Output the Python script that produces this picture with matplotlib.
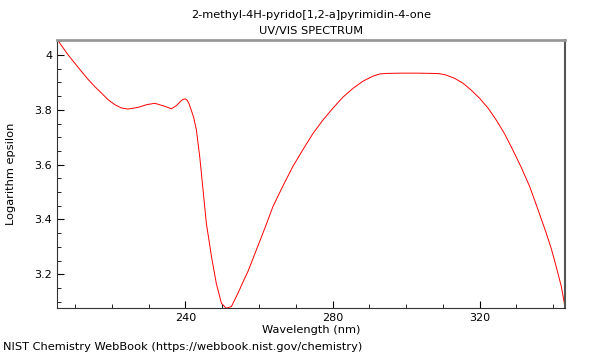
import matplotlib
matplotlib.use("Agg")
import matplotlib.pyplot as plt
from matplotlib.ticker import MultipleLocator, FormatStrFormatter

# -----------------------------
# DATA
# -----------------------------
wavelength = [205.2, 206.3, 208.1, 209.9, 211.7, 213.5, 215.3, 217.2, 219.0, 220.8,
              222.6, 224.4, 227.1, 229.5, 231.7, 234.4, 236.2, 237.6, 238.6, 239.3,
              240.0, 240.5, 241.0, 241.6, 242.3, 243.0, 243.9, 244.8, 245.7, 247.1,
              248.4, 249.8, 251.1, 252.5, 254.3, 255.6, 257.0, 259.3, 261.6, 263.8,
              266.5, 269.2, 272.0, 274.7, 277.4, 280.1, 282.8, 285.6, 288.3, 291.0,
              292.8, 294.6, 298.3, 303.0, 307.3, 309.1, 310.9, 313.2, 315.5, 317.7,
              320.0, 322.3, 324.5, 326.8, 329.0, 331.3, 333.6, 335.8, 338.1, 339.5,
              340.8, 342.2, 343.1]
log_eps = [4.056, 4.035, 4.001, 3.971, 3.941, 3.912, 3.886, 3.861, 3.837, 3.819,
           3.807, 3.803, 3.809, 3.819, 3.824, 3.813, 3.804, 3.816, 3.830, 3.838,
           3.840, 3.835, 3.822, 3.799, 3.770, 3.726, 3.629, 3.508, 3.386, 3.264,
           3.167, 3.094, 3.076, 3.082, 3.131, 3.170, 3.210, 3.289, 3.368, 3.447,
           3.522, 3.593, 3.656, 3.714, 3.763, 3.806, 3.846, 3.879, 3.905, 3.923,
           3.931, 3.933, 3.934, 3.934, 3.933, 3.932, 3.927, 3.915, 3.897, 3.872,
           3.842, 3.806, 3.763, 3.712, 3.654, 3.590, 3.520, 3.438, 3.350, 3.292,
           3.228, 3.155, 3.088]

title = "2-methyl-4H-pyrido[1,2-a]pyrimidin-4-one\nUV/VIS SPECTRUM"
footer = "NIST Chemistry WebBook (https://webbook.nist.gov/chemistry)"

# -----------------------------
# FIGURE
# -----------------------------
fig = plt.figure(figsize=(6, 3.6), dpi=100)
ax = fig.add_axes([0.095, 0.1453, 0.8467, 0.7436])

ax.plot(wavelength, log_eps, color="red", linewidth=0.7)

ax.set_xlim(205.1, 343.2)
ax.set_ylim(3.078, 4.055)

ax.xaxis.set_major_locator(MultipleLocator(40))
ax.xaxis.set_minor_locator(MultipleLocator(10))
ax.yaxis.set_major_locator(MultipleLocator(0.2))
ax.yaxis.set_minor_locator(MultipleLocator(0.05))
ax.yaxis.set_major_formatter(FormatStrFormatter("%g"))

ax.tick_params(which="both", direction="in", labelsize=8, color="black")
ax.tick_params(which="major", length=5, width=0.8)
ax.tick_params(which="minor", length=3, width=0.6)
ax.tick_params(axis="x", which="major", pad=4)
ax.tick_params(axis="y", which="major", pad=3.5)
ax.tick_params(top=False, right=False)

# spines: left/bottom dark, top light grey, right mid grey
ax.spines["left"].set_color("#333333")
ax.spines["bottom"].set_color("#333333")
ax.spines["top"].set_color("#999999")
ax.spines["top"].set_linewidth(2)
ax.spines["right"].set_color("#555555")
ax.spines["right"].set_linewidth(1.5)

ax.set_xlabel("Wavelength (nm)", fontsize=8.2, labelpad=1)
ax.set_ylabel("Logarithm epsilon", fontsize=8.2, labelpad=13)
ax.set_title(title, fontsize=8.2, pad=4, linespacing=1.8)

fig.text(0.005, 0.022, footer, fontsize=8.2, ha="left", va="bottom")

fig.savefig("out.png", dpi=100)
